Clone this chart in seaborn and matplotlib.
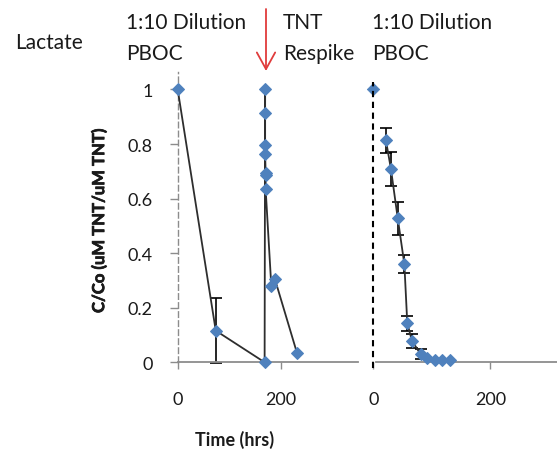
import matplotlib
matplotlib.use("Agg")
import matplotlib.pyplot as plt
import matplotlib.patheffects as pe
import seaborn as sns
import pandas as pd

# Lactate-fed batch: first run, then TNT respike at ~170 h
time_run1 = [0, 74, 169, 170, 170, 170, 170, 171, 171, 171, 182, 189, 232]
conc_run1 = [1.0, 0.116, 0.0, 1.0, 0.912, 0.795, 0.762, 0.695, 0.685, 0.634, 0.28, 0.305, 0.034]
err_run1 = [0, 0.12, 0, 0, 0, 0, 0, 0, 0, 0, 0, 0, 0]

# 1:10 dilution into PBOC, restarted clock
time_start2 = [0]
conc_start2 = [1.0]
time_run2 = [21.5, 30, 41.7, 53, 58, 66, 80.6, 91, 106, 118, 131]
conc_run2 = [0.814, 0.71, 0.528, 0.36, 0.143, 0.079, 0.030, 0.015, 0.007, 0.007, 0.007]
err_run2 = [0.046, 0.062, 0.06, 0.033, 0.028, 0.025, 0.017, 0, 0, 0, 0]

y_ticks = [0, 0.2, 0.4, 0.6, 0.8, 1.0]
y_tick_labels = ["0", "0.2", "0.4", "0.6", "0.8", "1"]
x_ticks = [0, 200]
x_tick_labels = ["0", "200"]

run1 = pd.DataFrame({"time": time_run1, "conc": conc_run1, "err": err_run1})
run2 = pd.DataFrame({"time": time_run2, "conc": conc_run2, "err": err_run2})
start2 = pd.DataFrame({"time": time_start2, "conc": conc_start2})

sns.set_style("white")
plt.rcParams["font.family"] = ["Lato", "DejaVu Sans"]

W, H = 557, 452
fig = plt.figure(figsize=(W / 100, H / 100), dpi=100)


def px_axes(x0, y0, x1, y1):
    return fig.add_axes([x0 / W, 1 - y1 / H, (x1 - x0) / W, (y1 - y0) / H])


ax1 = px_axes(177.7, 73.3, 357.7, 363.3)
ax2 = px_axes(373.3, 73.3, 557, 363.3)

BLUE = "#4F81BD"
LINE = "#2e2e2e"
AXIS = "#8c8c8c"
TEXT = "#1a1a1a"

line_kw = dict(color=LINE, lw=1.3, marker="D", markersize=6,
               markerfacecolor=BLUE, markeredgecolor=BLUE, clip_on=False, zorder=3)

# left panel
sns.lineplot(data=run1, x="time", y="conc", sort=False, estimator=None, ax=ax1, **line_kw)
e1 = run1[run1["err"] > 0]
ax1.errorbar(e1["time"], e1["conc"], yerr=e1["err"], fmt="none", ecolor="black",
             elinewidth=1.2, capsize=4.5, capthick=1.2, zorder=2, clip_on=False)

# right panel
sns.lineplot(data=run2, x="time", y="conc", sort=False, estimator=None, ax=ax2, **line_kw)
e2 = run2[run2["err"] > 0]
ax2.errorbar(e2["time"], e2["conc"], yerr=e2["err"], fmt="none", ecolor="black",
             elinewidth=1.2, capsize=4.3, capthick=1.2, zorder=2, clip_on=False)
sns.scatterplot(data=start2, x="time", y="conc", ax=ax2, marker="D", s=40,
                color=BLUE, edgecolor=BLUE, clip_on=False, zorder=3)
ax2.axvline(0, ymin=-0.02, ymax=0.966, color="black", lw=1.5, ls=(0, (3, 2.2)),
            clip_on=False, zorder=4)

for ax in (ax1, ax2):
    ax.set_ylim(0, 1.063)
    ax.set_xlabel("")
    ax.set_ylabel("")
    ax.spines["top"].set_visible(False)
    ax.spines["right"].set_visible(False)
    ax.spines["bottom"].set_color(AXIS)
    ax.spines["bottom"].set_linewidth(1.3)
    ax.set_xticks(x_ticks)
    ax.set_xticklabels(x_tick_labels)
    ax.tick_params(axis="x", direction="out", length=5, width=1, color=AXIS,
                   pad=16, labelsize=13, labelcolor=TEXT, bottom=True)
    ax.set_facecolor("none")

ax1.set_xlim(0, 350)
ax2.set_xlim(0, 313.5)
ax2.spines["bottom"].set_bounds(5, 313.5)

ax1.spines["left"].set_color(AXIS)
ax1.spines["left"].set_linestyle((0, (4, 2.5)))
ax1.spines["left"].set_linewidth(1.0)
ax1.set_yticks(y_ticks)
ax1.set_yticklabels(y_tick_labels)
ax1.tick_params(axis="y", direction="out", length=6, width=1, color=AXIS,
                pad=12, labelsize=13, labelcolor=TEXT, left=True)

ax2.spines["left"].set_visible(False)
ax2.set_yticks([])


# annotations above the panels
def ftext(x, y, s, **kw):
    fig.text(x / W, 1 - y / H, s, color=TEXT, **kw)


head_kw = dict(fontsize=15, va="center", ha="left")
ftext(15, 43, "Lactate", **head_kw)
ftext(126, 23, "1:10 Dilution", **head_kw)
ftext(126, 54, "PBOC", **head_kw)
ftext(283, 23, "TNT", **head_kw)
ftext(283, 54, "Respike", **head_kw)
ftext(372, 23, "1:10 Dilution", **head_kw)
ftext(372, 54, "PBOC", **head_kw)

ax1.annotate("", xy=(266 / W, 1 - 72 / H), xytext=(266 / W, 1 - 10 / H),
             xycoords="figure fraction", textcoords="figure fraction",
             arrowprops=dict(arrowstyle="->,head_length=0.6,head_width=0.33",
                             color="#E03C3C", lw=1.3, shrinkA=0, shrinkB=0,
                             mutation_scale=20),
             annotation_clip=False)

ftext(99, 222, "C/Co (uM TNT/uM TNT)", fontsize=12, fontweight="bold",
      rotation=90, ha="center", va="center",
      path_effects=[pe.withStroke(linewidth=0.5, foreground=TEXT)])
ftext(235, 440, "Time (hrs)", fontsize=13, fontweight="bold", ha="center", va="center")

fig.savefig("out.png", dpi=100)
